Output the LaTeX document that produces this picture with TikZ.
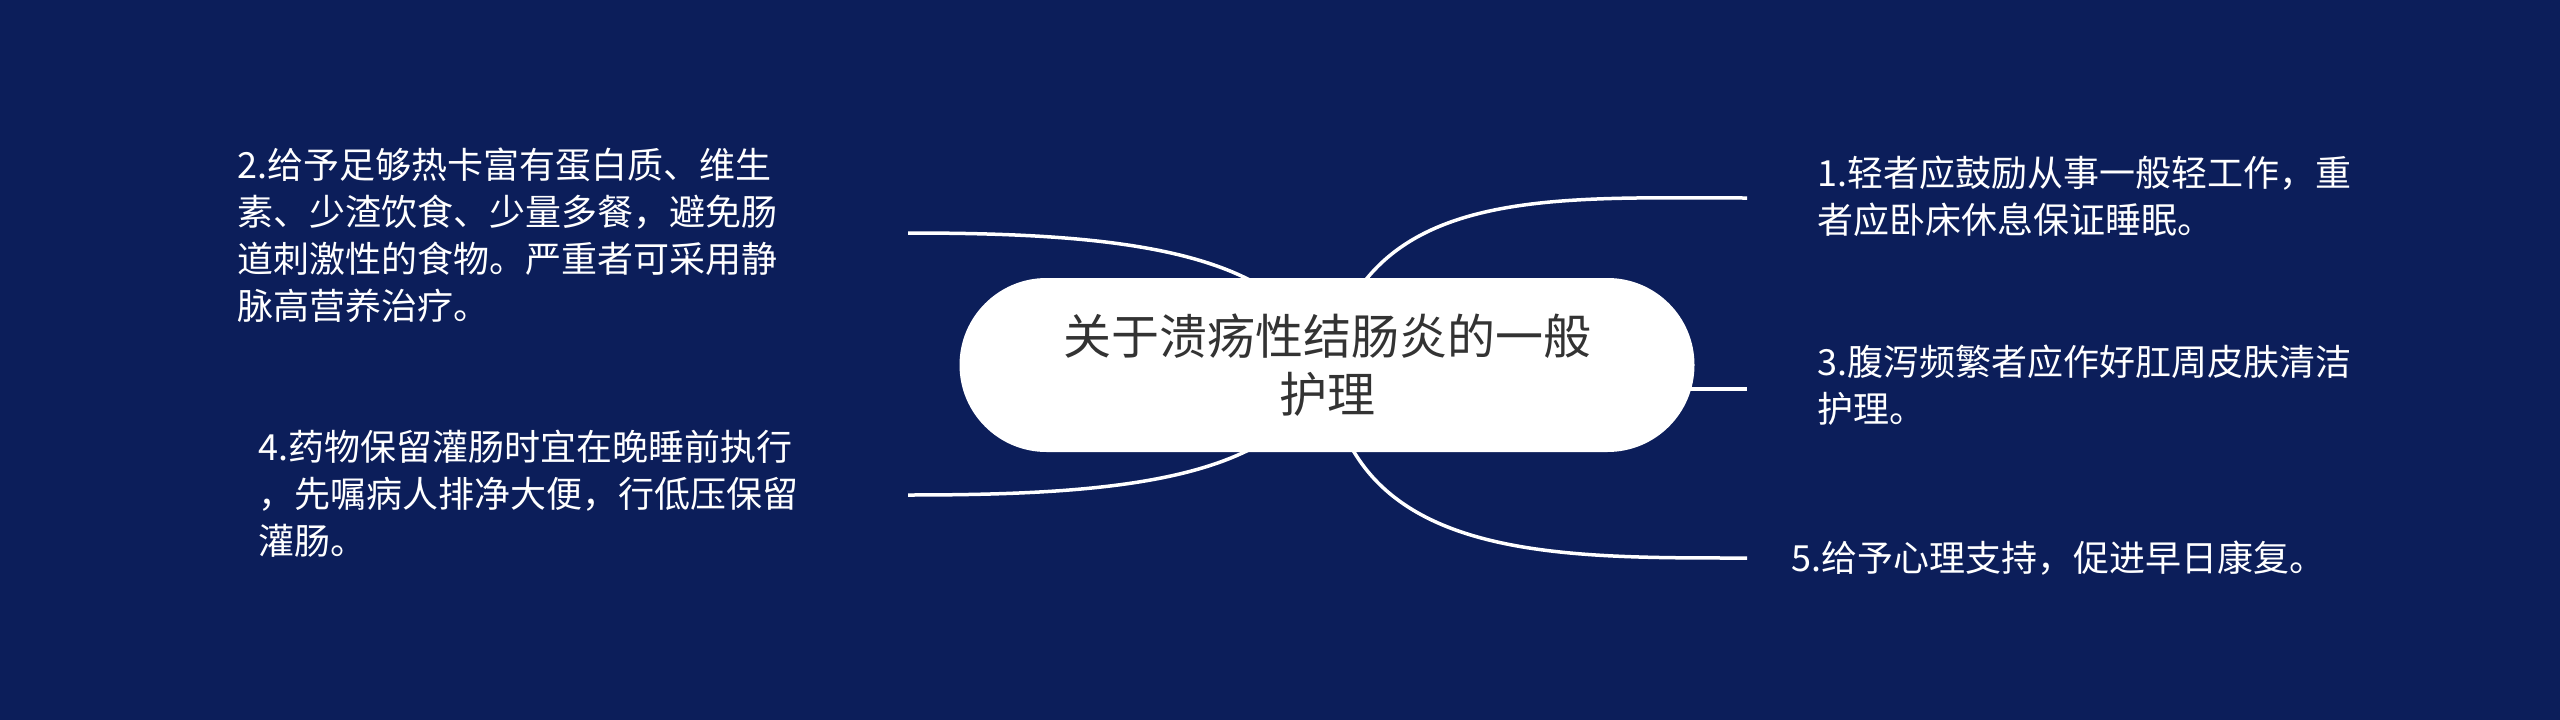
\documentclass[tikz,border=0pt]{standalone}
\usepackage{fontspec}
\setmainfont{Noto Sans CJK SC}
\usetikzlibrary{backgrounds}
\definecolor{navy}{RGB}{12,30,90}
\definecolor{titlegray}{RGB}{51,51,51}

\begin{document}
\begin{tikzpicture}[x=1pt,y=-1pt,
        branch/.style={draw=white,line width=3.5pt},
        leaf/.style={anchor=base west,inner sep=0pt,text=white,align=left,
            text width=600pt,font=\fontsize{36}{47}\selectfont},
        topicbox/.style={fill=white,rounded corners=87pt,minimum width=735pt,
            minimum height=174pt,text=titlegray,align=center,
            font=\fontsize{48}{58}\selectfont}]
            % Central topic:
            \node[topicbox] (topic) at (1327,365) {关于溃疡性结肠炎的一般\\护理};

            % Leaves, placed at the baseline of their first line:
            \node[leaf] (n1) at (1817,186) {1.轻者应鼓励从事一般轻工作，重\\者应卧床休息保证睡眠。};
            \node[leaf] (n2) at (237,178) {2.给予足够热卡富有蛋白质、维生\\素、少渣饮食、少量多餐，避免肠\\道刺激性的食物。严重者可采用静\\脉高营养治疗。};
            \node[leaf] (n3) at (1817,375) {3.腹泻频繁者应作好肛周皮肤清洁\\护理。};
            \node[leaf] (n4) at (258,460) {4.药物保留灌肠时宜在晚睡前执行\\，先嘱病人排净大便，行低压保留\\灌肠。};
            \node[leaf] (n5) at (1791,571) {5.给予心理支持，促进早日康复。};

            % Free ends of the branches:
            \coordinate (e1) at (1747,198);
            \coordinate (e2) at (908,233);
            \coordinate (e3) at (1747,389);
            \coordinate (e4) at (908,495);
            \coordinate (e5) at (1747,558);

            \begin{scope}[on background layer]
            \fill[navy] (0,0) rectangle (2560,720);
            % Branches start under the box:
            \draw[branch] (topic.center) .. controls +(40,-180) and +(-200,0) .. (e1);
            \draw[branch] (topic.center) .. controls +(-37,-115) and +(212,0) .. (e2);
            \draw[branch] (topic.center |- e3) -- (e3);
            \draw[branch] (topic.center) .. controls +(-37,115) and +(212,0) .. (e4);
            \draw[branch] (topic.center) .. controls +(20,195) and +(-200,0) .. (e5);
            \end{scope}
\end{tikzpicture}
\end{document}
